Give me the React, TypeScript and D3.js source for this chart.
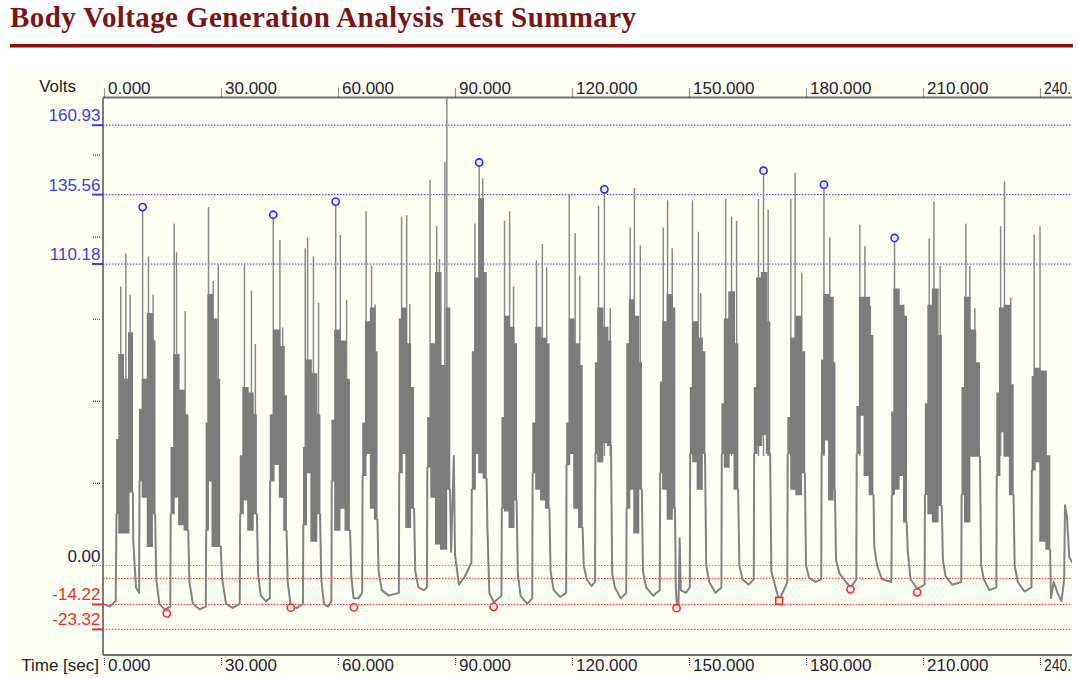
import React, { useEffect, useRef } from 'react';
import * as d3 from 'd3';

// axis ticks / reference levels
const timeTicks = [0, 30, 60, 90, 120, 150, 180, 210, 240];
const upperLevels = [160.93, 135.56, 110.18];
const lowerLevels = [-14.22, -23.32];
const innerLimit = -4.7;
const minorVoltTicks = [30, 60, 90, 120, 150];

// pulses (sec)
const pulseStart = [3.2, 9.1, 17.1, 26.2, 34.9, 42.6, 51.1, 58.4, 66.3, 75.7, 82.9, 94.3, 102.0, 109.9, 118.6,
  126.0, 134.0, 142.6, 150.3, 158.4, 166.7, 175.3, 184.0, 193.0, 202.0, 210.5, 219.9, 228.9, 237.9];
const pulseEnd = [7.4, 13.1, 21.6, 29.7, 39.2, 46.8, 55.4, 63.1, 70.1, 79.5, 88.7, 98.1, 105.8, 114.2, 122.7,
  130.0, 137.9, 146.4, 154.1, 162.6, 170.8, 179.7, 187.4, 197.3, 205.8, 214.8, 224.6, 233.2, 242.6];

// dense part of each pulse: sample times, lower and upper volts
const bandTimes = [
  [3.4, 4.3, 5.6, 7.1], [9.2, 10.5, 11.8, 12.9], [17.4, 18.5, 19.9, 21.3], [26.3, 27.1, 28.4, 29.5],
  [35.1, 36.2, 37.6, 38.8], [42.8, 44.3, 45.7, 46.6], [51.3, 52.4, 53.8, 55.2], [58.6, 59.8, 61.1, 62.6],
  [66.5, 67.7, 69.0, 69.8], [75.9, 76.9, 78.0, 79.1], [83.2, 84.5, 85.6, 87.1, 88.5], [94.7, 95.6, 96.7, 97.8],
  [102.2, 103.3, 104.5, 105.6], [110.1, 111.4, 112.6, 113.9], [118.8, 119.9, 121.1, 122.4], [126.1, 127.2, 128.5, 129.8],
  [134.2, 135.3, 136.5, 137.6], [142.8, 143.8, 145.1, 146.2], [150.5, 151.5, 152.8, 153.9], [158.6, 159.6, 160.9, 162.3],
  [166.9, 167.9, 169.3, 170.5], [175.5, 176.8, 178.1, 179.5], [184.1, 185.2, 186.5, 187.3], [193.2, 194.3, 195.6, 196.9],
  [202.1, 203.1, 204.5, 205.6], [210.8, 211.8, 213.1, 214.5], [220.2, 221.2, 222.7, 224.2], [229.1, 230.2, 231.5, 232.9],
  [238.2, 239.2, 240.8, 242.3],
];
const bandLow = [
  [19, 12, 12, 27], [31, 25, 7, 19], [19, 25, 15, 13], [13, 31, 7, 7],
  [19, 24, 13, 19], [31, 37, 25, 13], [15, 34, 9, 19], [31, 13, 21, 13],
  [33, 41, 21, 17], [34, 41, 14, 21], [36, 25, 8, 6, 28], [28, 41, 34, 32],
  [21, 20, 14, 24], [34, 28, 24, 21], [37, 41, 21, 14], [41, 38, 45, 44],
  [21, 28, 12, 28], [34, 28, 17, 21], [41, 38, 28, 41], [41, 36, 41, 28],
  [41, 44, 48, 41], [41, 28, 26, 34], [41, 46, 24, 28], [41, 55, 33, 26],
  [26, 28, 33, 16], [26, 19, 16, 22], [26, 16, 40, 40], [33, 49, 40, 26],
  [35, 38, 9, 6],
];
const bandHigh = [
  [46, 77, 68, 85], [57, 68, 92, 82], [43, 77, 64, 55], [52, 99, 90, 68],
  [40, 65, 63, 55], [55, 86, 80, 62], [43, 75, 70, 55], [53, 86, 82, 68],
  [52, 89, 94, 78], [90, 94, 81, 65], [54, 81, 107, 73, 94], [78, 105, 134, 107],
  [54, 91, 87, 81], [52, 87, 83, 81], [52, 90, 81, 73], [74, 94, 87, 82],
  [81, 97, 91, 74], [67, 89, 99, 94], [65, 89, 83, 78], [59, 90, 100, 81],
  [65, 105, 107, 89], [54, 83, 91, 78], [75, 99, 98, 74], [58, 98, 98, 84],
  [56, 101, 95, 91], [59, 95, 101, 84], [65, 98, 86, 74], [63, 94, 95, 66],
  [69, 72, 71, 40],
];

// single tall excursions
const spikeTimes = [4.3, 5.6, 6.7, 9.9, 11.4, 12.6, 18.0, 18.6, 20.8, 26.8, 28.0, 29.3, 36.0, 37.8, 38.8,
  43.4, 45.1, 45.8, 51.6, 52.2, 53.7, 55.0, 59.4, 60.6, 62.2, 67.2, 68.6, 69.5, 76.3, 77.6, 78.4,
  83.6, 85.3, 86.0, 87.4, 87.9, 95.1, 96.2, 97.1, 97.7, 102.7, 104.0, 105.0, 110.9, 112.4, 113.5,
  119.3, 120.8, 122.0, 126.8, 128.3, 129.8, 134.9, 136.0, 137.5, 143.4, 144.5, 145.7, 150.9, 152.4, 153.0,
  159.4, 160.9, 162.2, 167.8, 169.1, 170.3, 176.1, 177.2, 178.9, 184.6, 186.1, 193.8, 195.1, 196.5,
  202.7, 203.7, 211.6, 212.8, 214.4, 221.0, 222.0, 223.3, 229.9, 230.9, 232.5, 238.5, 240.0];
const spikeVolts = [102, 114, 99, 131, 113, 99, 125, 114.5, 93, 131, 104, 110, 110, 100.5, 81,
  128, 119, 87, 116, 120, 113, 96, 133, 120.8, 97, 129.5, 109.5, 95.5, 127.5, 128, 95.5,
  141, 124, 112, 147.5, 171, 125, 147.3, 141.5, 104, 126, 129.5, 102, 111.5, 117.5, 109,
  135.5, 121.5, 106, 131.5, 137.5, 94, 123.5, 138, 117, 123.5, 133.5, 116, 133.5, 122, 99.5,
  134, 127.5, 126, 134, 144.3, 130, 134, 143.5, 107, 139.2, 120, 124.5, 116.7, 95,
  119.7, 101, 119.5, 133, 109.5, 125, 109.5, 94, 124, 140.4, 98, 121, 124];

// baseline between pulses (one list before each pulse, last one after the final pulse)
const troughTimes = [
  [-0.3, 1.5, 3.0], [7.5, 8.2, 9.0], [13.4, 14.2, 15.5, 17.0], [21.9, 22.8, 24.5, 26.1],
  [29.9, 30.3, 31.3, 33.0, 34.8], [39.5, 40.2, 41.5, 42.5], [47.1, 47.9, 49.5, 51.0], [55.7, 56.4, 57.5, 58.3],
  [63.4, 64.0, 65.2, 66.2], [70.4, 71.2, 73.0, 75.6], [79.8, 80.6, 82.0, 82.8], [89.0, 89.7, 90.0, 91.0, 92.5, 94.2],
  [98.3, 98.8, 100.0, 101.9], [106.1, 106.8, 108.5, 109.8], [114.5, 115.3, 117.0, 118.5], [123.0, 123.8, 125.0, 125.9],
  [130.3, 131.0, 132.5, 133.9], [138.2, 139.0, 140.8, 142.5], [146.6, 146.9, 147.3, 147.6, 147.9, 149.2, 150.2],
  [154.4, 155.2, 156.8, 158.3], [162.9, 163.7, 165.3, 166.6], [171.1, 172.2, 173.1, 174.3, 175.2],
  [180.0, 180.8, 182.5, 183.9], [187.7, 188.6, 190.5, 191.5, 192.9], [197.5, 198.2, 199.5, 201.9],
  [206.1, 206.8, 208.5, 210.4], [215.1, 215.8, 217.5, 219.8], [224.9, 225.6, 227.0, 228.8], [233.5, 234.3, 236.0, 237.8],
  [242.8, 243.5, 244.5, 245.5, 246.2, 246.4, 246.9, 247.5, 248.3],
];
const troughVolts = [
  [-14, -15, -13], [9, -8, -10], [-5, -14, -16, -15], [-6, -14, -16, -15],
  [7, -5, -14, -15.5, -14], [-3, -11, -13, -12], [-6, -15, -15.5, -14], [-5, -14, -15, -13],
  [-4, -12, -12, -10], [-2, -9, -11, -10], [-2, -8, -9, -8], [5, 40, 4, -7, -4, 1],
  [14, -10, -13.5, -11], [-3, -11, -14, -12], [-2, -9, -11.5, -10], [0, -5, -7.5, -6],
  [-3, -8, -12, -10], [-2, -8, -11, -9], [-8, -15, -14, 10, -9, -10, -8],
  [0, -6, -10, -8], [0, -5, -7, -5], [-2, -8, -12.5, -9, -6],
  [0, -4.5, -6, -5], [2, -3, -6.5, -8, -5], [7, 0, -5, -6],
  [5, -5, -8.5, -7], [2, -4, -7, -6], [0, -5, -9, -8], [0, -6, -9.5, -8],
  [-12, -6, -10, -13, -5, 22, 18, 3, 1],
];

// detected maxima / minima markers
const peakTimes = [9.9, 43.4, 59.4, 96.2, 128.3, 169.1, 184.6, 202.7];
const peakVolts = [131, 128.2, 133, 147.3, 137.5, 144.3, 139.2, 119.7];
const valleyTimes = [16.1, 47.9, 64.1, 99.9, 146.8, 173.1, 191.4, 208.5];
const valleyVolts = [-17.5, -15.4, -15.3, -15.1, -15.6, -12.9, -8.7, -9.8];
const valleySquare = [false, false, false, false, false, true, false, false];

const SANS = '"Liberation Sans", Arial, sans-serif';

export default function App() {
  const ref = useRef<SVGSVGElement>(null);

  useEffect(() => {
    const svg = d3.select(ref.current);
    svg.selectAll('*').remove();

    const left = 103, right = 1072, top = 97.5, bottom = 655;
    const x = d3.scaleLinear().domain([-0.26, 248.2]).range([left, right]);
    const y = d3.scaleLinear().domain([-32.7, 171.05]).range([bottom, top]);

    // title + rule
    svg.append('text')
      .attr('x', 10).attr('y', 27)
      .attr('font-family', '"Liberation Serif", "Times New Roman", serif')
      .attr('font-weight', 'bold').attr('font-size', 29)
      .attr('fill', '#7b1416')
      .attr('textLength', 626).attr('lengthAdjust', 'spacing')
      .text('Body Voltage Generation Analysis Test Summary');
    svg.append('rect').attr('x', 10).attr('y', 44).attr('width', 1063).attr('height', 3.5).attr('fill', '#8a1010');

    // chart panel
    svg.append('rect').attr('x', 10).attr('y', 72).attr('width', right - 10).attr('height', 678 - 72).attr('fill', '#fffff4');

    const defs = svg.append('defs');
    defs.append('clipPath').attr('id', 'plotClip').append('rect')
      .attr('x', left).attr('y', top).attr('width', right - left).attr('height', bottom - top);

    // reference levels
    const lines = svg.append('g').attr('clip-path', 'url(#plotClip)');
    upperLevels.forEach(v => {
      lines.append('line').attr('x1', left).attr('x2', right).attr('y1', y(v)).attr('y2', y(v))
        .attr('stroke', '#3d3dff').attr('stroke-width', 1).attr('stroke-dasharray', '1.5 1.5');
    });
    [...lowerLevels, innerLimit].forEach(v => {
      lines.append('line').attr('x1', left).attr('x2', right).attr('y1', y(v)).attr('y2', y(v))
        .attr('stroke', '#ff3030').attr('stroke-width', 1).attr('stroke-dasharray', '1.5 1.5');
    });
    lines.append('line').attr('x1', left).attr('x2', right).attr('y1', y(0)).attr('y2', y(0))
      .attr('stroke', '#999').attr('stroke-width', 1).attr('stroke-dasharray', '1.5 1.5');

    // trace: each gap runs from the bottom of one pulse, through the baseline, to the bottom of the next
    const plot = svg.append('g').attr('clip-path', 'url(#plotClip)');
    const line = d3.line<[number, number]>().x(d => x(d[0])).y(d => y(d[1]));
    troughTimes.forEach((ts, i) => {
      const pts: [number, number][] = [];
      if (i > 0) pts.push([pulseEnd[i - 1], bandLow[i - 1][bandLow[i - 1].length - 1]]);
      ts.forEach((t, j) => pts.push([t, troughVolts[i][j]]));
      if (i < pulseStart.length) pts.push([pulseStart[i], bandLow[i][0]]);
      plot.append('path').attr('d', line(pts)).attr('fill', 'none')
        .attr('stroke', '#828282').attr('stroke-width', 2).attr('stroke-linejoin', 'round');
    });

    spikeTimes.forEach((t, i) => {
      plot.append('line').attr('x1', x(t)).attr('x2', x(t)).attr('y1', y(40)).attr('y2', y(spikeVolts[i]))
        .attr('stroke', '#8a8a8a').attr('stroke-width', 1.5);
    });

    const area = d3.area<number>()
      .x(d => x(d))
      .curve(d3.curveStep);
    bandTimes.forEach((ts, i) => {
      const pad = [pulseStart[i], ...ts, pulseEnd[i]];
      const lo = [bandLow[i][0], ...bandLow[i], bandLow[i][bandLow[i].length - 1]];
      const hi = [bandLow[i][0], ...bandHigh[i], bandLow[i][bandLow[i].length - 1]];
      area.y0((d, j) => y(lo[j])).y1((d, j) => y(hi[j]));
      plot.append('path').attr('d', area(pad)).attr('fill', '#7c7c7c')
        .attr('stroke', '#7c7c7c').attr('stroke-width', 1.5).attr('stroke-linejoin', 'miter');
    });

    // axes frame
    svg.append('line').attr('x1', left).attr('x2', left).attr('y1', top).attr('y2', bottom)
      .attr('stroke', '#505050').attr('stroke-width', 1.5);
    svg.append('line').attr('x1', left).attr('x2', right).attr('y1', top).attr('y2', top)
      .attr('stroke', '#707070').attr('stroke-width', 2);
    svg.append('line').attr('x1', left).attr('x2', right).attr('y1', bottom).attr('y2', bottom)
      .attr('stroke', '#707070').attr('stroke-width', 2);

    // time axes (last label is cut short by the panel edge, as in the original)
    const fmt = (d: number) => (d === 240 ? '240.' : d3.format('.3f')(d));
    const topAxis = svg.append('g').attr('transform', `translate(0,${top})`)
      .call(d3.axisTop(x).tickValues(timeTicks).tickFormat(fmt as any).tickSize(10));
    const bottomAxis = svg.append('g').attr('transform', `translate(0,${bottom})`)
      .call(d3.axisBottom(x).tickValues(timeTicks).tickFormat(fmt as any).tickSize(10));
    [topAxis, bottomAxis].forEach(g => {
      g.select('.domain').remove();
      g.attr('font-family', SANS).attr('font-size', 17);
      g.selectAll('line').attr('stroke', '#333').attr('stroke-dasharray', '1 1').attr('stroke-width', 1.2);
      g.selectAll('text').attr('text-anchor', 'start').attr('x', 3.5).attr('dy', null).attr('fill', '#1f2433');
      g.selectAll<SVGTextElement, number>('text').filter(d => d === 240)
        .attr('textLength', 27).attr('lengthAdjust', 'spacingAndGlyphs');
    });
    topAxis.selectAll('line').attr('y2', -10).attr('y1', 0);
    topAxis.selectAll('text').attr('y', -3.5);
    bottomAxis.selectAll('line').attr('y1', 3).attr('y2', 11);
    bottomAxis.selectAll('text').attr('y', 16);

    svg.append('text').attr('x', 76).attr('y', 91.5).attr('text-anchor', 'end')
      .attr('font-family', SANS).attr('font-size', 17).attr('fill', '#222').text('Volts');
    svg.append('text').attr('x', 99).attr('y', 671).attr('text-anchor', 'end')
      .attr('font-family', SANS).attr('font-size', 17).attr('fill', '#222').text('Time [sec]');

    // volt labels
    const yLabel = (v: number, color: string, solid: boolean) => {
      svg.append('text').attr('x', 100.5).attr('y', y(v) - 4).attr('text-anchor', 'end')
        .attr('font-family', SANS).attr('font-size', 17).attr('fill', color).text(v.toFixed(2));
      svg.append('line').attr('x1', 92).attr('x2', left).attr('y1', y(v)).attr('y2', y(v))
        .attr('stroke', solid ? color : '#888').attr('stroke-width', solid ? 2 : 1)
        .attr('stroke-dasharray', solid ? null : '1 1');
    };
    upperLevels.forEach(v => yLabel(v, '#3c3cf0', true));
    yLabel(0, '#202040', false);
    lowerLevels.forEach(v => yLabel(v, '#f03030', true));
    minorVoltTicks.forEach(v => {
      svg.append('line').attr('x1', 93).attr('x2', 101).attr('y1', y(v)).attr('y2', y(v))
        .attr('stroke', '#444').attr('stroke-width', 1.2).attr('stroke-dasharray', '1 1');
    });

    // markers
    peakTimes.forEach((t, i) => {
      svg.append('circle').attr('cx', x(t)).attr('cy', y(peakVolts[i])).attr('r', 3.6)
        .attr('fill', '#eef0ff').attr('stroke', '#2a2aff').attr('stroke-width', 1.6);
    });
    valleyTimes.forEach((t, i) => {
      if (valleySquare[i]) {
        svg.append('rect').attr('x', x(t) - 3.4).attr('y', y(valleyVolts[i]) - 3.4).attr('width', 6.8).attr('height', 6.8)
          .attr('fill', '#fff4f4').attr('stroke', '#ff2a2a').attr('stroke-width', 1.6);
      } else {
        svg.append('circle').attr('cx', x(t)).attr('cy', y(valleyVolts[i])).attr('r', 3.6)
          .attr('fill', '#fff4f4').attr('stroke', '#ff2a2a').attr('stroke-width', 1.6);
      }
    });
  }, []);

  return <svg ref={ref} width={1078} height={678} style={{ position: 'absolute', left: 0, top: 0, background: '#fff' }} />;
}
